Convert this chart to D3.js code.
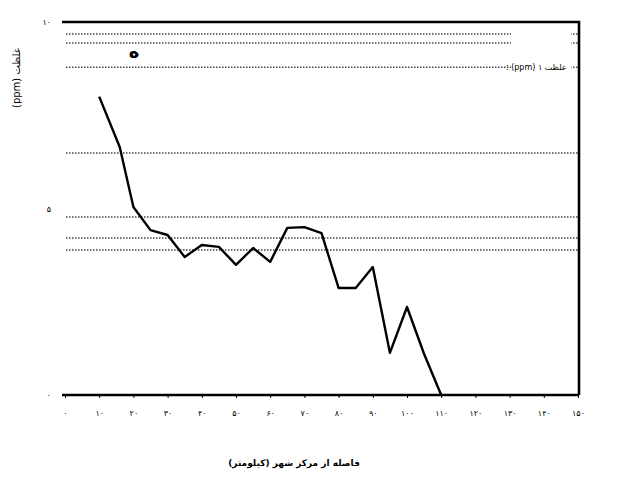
<!DOCTYPE html>
<html><head><meta charset="UTF-8">
<style>
  body, html { margin: 0; padding: 0; background: #fff; }
  svg text { font-family: 'DejaVu Sans', sans-serif; fill: #000; }
</style>
</head>
<body>
<svg id="chart" width="642" height="494"></svg>
<script src="https://cdnjs.cloudflare.com/ajax/libs/d3/7.8.5/d3.min.js"></script>
<script>
// data
const distance = [10, 16, 20, 25, 30, 35, 40, 45, 50, 55, 60, 65, 70, 75, 80, 85, 90, 95, 100, 105, 110];
const level    = [8.0, 6.65, 5.04, 4.42, 4.29, 3.7, 4.02, 3.97, 3.49, 3.94, 3.57, 4.48, 4.5, 4.34, 2.87, 2.87, 3.43, 1.13, 2.36, 1.1, 0];
const refLines = [9.68, 9.44, 8.79, 6.49, 4.77, 4.21, 3.89];
const xTicks = d3.range(0, 151, 10);
const yTicks = [0, 5, 10];
const xTitle = "فاصله از مرکز شهر (کیلومتر)";
const yTitle = "غلظت (ppm)";
const legendText = "غلظت ۱ (ppm) :";
const noteText = "ه";

const fa = n => String(n).replace(/\d/g, d => "۰۱۲۳۴۵۶۷۸۹"[d]);

const svg = d3.select("#chart");
const plotL = 62, plotR = 578, plotT = 22, plotB = 395;

const x = d3.scaleLinear().domain([0, 150]).range([65, 578]);
const y = d3.scaleLinear().domain([0, 10]).range([plotB, plotT]);

// dotted reference lines (broken by the legend box)
svg.append("g").selectAll("line")
  .data(refLines)
  .enter().append("line")
  .attr("x1", plotL + 4).attr("x2", plotR)
  .attr("y1", d => y(d)).attr("y2", d => y(d))
  .attr("stroke", "#444")
  .attr("stroke-width", 1.5)
  .attr("stroke-dasharray", "1.5,1.5");

// legend box
svg.append("rect")
  .attr("x", 511).attr("y", 28).attr("width", 60).attr("height", 46)
  .attr("fill", "#fff");
svg.append("text")
  .attr("x", 566).attr("y", 70)
  .attr("text-anchor", "start")
  .attr("font-size", 8)
  .attr("direction", "rtl")
  .text(legendText);

svg.append("text")
  .attr("x", 134).attr("y", 58)
  .attr("text-anchor", "middle")
  .attr("font-size", 18)
  .attr("font-weight", "bold")
  .text(noteText);

// frame: top, right, bottom
svg.append("path")
  .attr("d", `M${plotL},${plotT}H${plotR + 1}V${plotB}`)
  .attr("fill", "none").attr("stroke", "#000").attr("stroke-width", 2.6);

const xAxis = d3.axisBottom(x).tickValues(xTicks).tickSize(3).tickPadding(12).tickFormat(fa);
const gx = svg.append("g").attr("transform", `translate(0,${plotB})`).call(xAxis);
gx.select(".domain").attr("d", `M${plotL},0H${plotR + 1}`).attr("stroke-width", 2.6);
gx.selectAll("text").attr("font-size", 8).attr("font-family", "'DejaVu Sans', sans-serif");

const yAxis = d3.axisLeft(y).tickValues(yTicks).tickSize(0).tickPadding(11).tickFormat(fa);
const gy = svg.append("g").attr("transform", `translate(${plotL},0)`).call(yAxis);
gy.select(".domain").remove();
gy.selectAll("text").attr("font-size", 8).attr("font-family", "'DejaVu Sans', sans-serif");

// the series
const line = d3.line().x((d, i) => x(distance[i])).y(d => y(d));
svg.append("path")
  .datum(level)
  .attr("d", line)
  .attr("fill", "none")
  .attr("stroke", "#000")
  .attr("stroke-width", 2.4)
  .attr("stroke-linejoin", "round");

// titles
svg.append("text")
  .attr("x", 294).attr("y", 466)
  .attr("text-anchor", "middle")
  .attr("font-size", 9)
  .attr("font-weight", "bold")
  .attr("direction", "rtl")
  .text(xTitle);

svg.append("text")
  .attr("transform", "translate(20,78) rotate(-90)")
  .attr("text-anchor", "middle")
  .attr("font-size", 10)
  .attr("direction", "rtl")
  .text(yTitle);
</script>
</body></html>
